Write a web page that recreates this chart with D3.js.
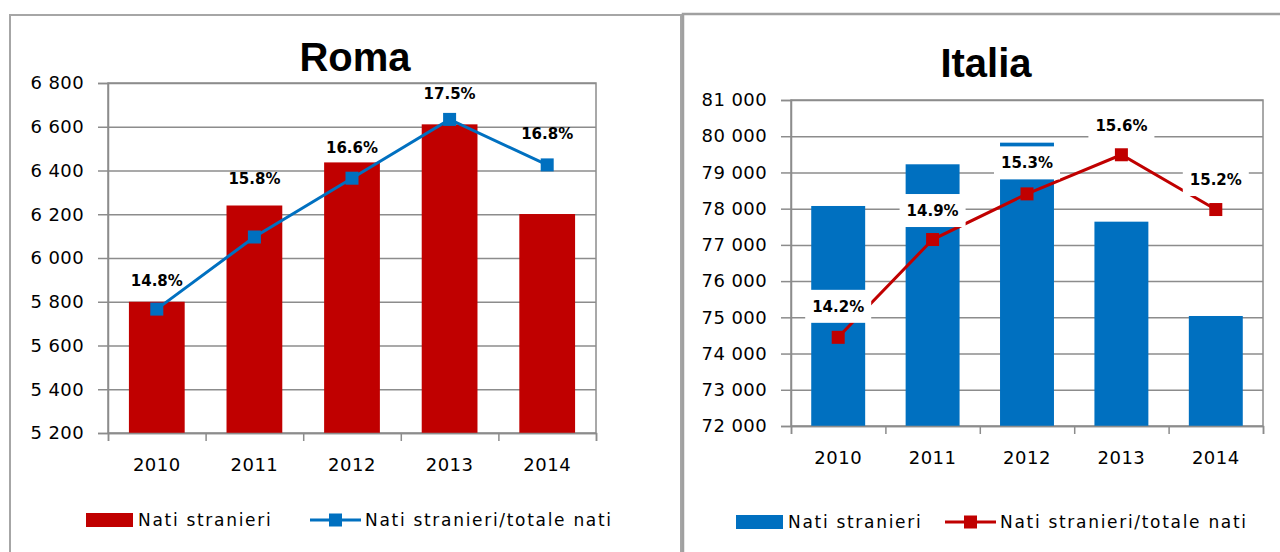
<!DOCTYPE html>
<html>
<head>
<meta charset="utf-8">
<script src="https://cdn.jsdelivr.net/npm/d3@7"></script>
<style>
body { margin: 0; background: #fff; }
svg text { font-family: "DejaVu Sans", sans-serif; fill: #000; }
.tick line { stroke: #8c8c8c; }
.domain { stroke: #8c8c8c; }
</style>
</head>
<body>
<svg width="1280" height="552"></svg>
<script>
// categories
const years = ["2010", "2011", "2012", "2013", "2014"];

// Roma
const romaNati = [5800, 6240, 6437, 6611, 6201];
const romaQuota = [14.77, 15.8, 16.64, 17.48, 16.83];
const romaTicks = [5200, 5400, 5600, 5800, 6000, 6200, 6400, 6600, 6800];

// Italia
const italiaNati = [78074, 79225, 79822, 77641, 75037];
const italiaQuota = [14.18, 14.93, 15.28, 15.58, 15.16];
const italiaTicks = [72000, 73000, 74000, 75000, 76000, 77000, 78000, 79000, 80000, 81000];

const legendNames = ["Nati stranieri", "Nati stranieri/totale nati"];

const RED = "#c00000", BLUE = "#0070c0", GRID = "#8c8c8c";

const fmt = d3.formatLocale({decimal: ".", thousands: " ", grouping: [3], currency: ["", ""]}).format(",d");
const pct = d => d3.format(".1f")(d) + "%";

let svg = d3.select("svg");

// outer frames of the two charts
svg.append("rect")
	.attr("x", 10).attr("y", 15).attr("width", 671).attr("height", 600)
	.attr("fill", "none").attr("stroke", "#a6a6a6").attr("stroke-width", 2);
svg.append("rect")
	.attr("x", 683).attr("y", 14).attr("width", 700).attr("height", 600)
	.attr("fill", "none").attr("stroke", "#a0a0a0").attr("stroke-width", 2.5);

drawPanel({
	title: "Roma", titleX: 355, titleY: 71,
	left: 108, right: 596, top: 83, bottom: 433,
	nati: romaNati, quota: romaQuota, ticks: romaTicks,
	yDomain: [5200, 6800], qDomain: [13, 18],
	barColor: RED, lineColor: BLUE,
	labelDy: [-29, -58, -31, -26, -31], labelBox: false,
	legendY: 520, swatchX: 86, lineX: 310
});

drawPanel({
	title: "Italia", titleX: 986, titleY: 77,
	left: 791, right: 1263, top: 100, bottom: 426,
	nati: italiaNati, quota: italiaQuota, ticks: italiaTicks,
	yDomain: [72000, 81000], qDomain: [13.5, 16],
	barColor: BLUE, lineColor: RED,
	labelDy: [-31, -29, -31, -29, -30], labelBox: true,
	legendY: 522, swatchX: 736, lineX: 945
});

function drawPanel(o) {
	let g = svg.append("g");

	let x = d3.scaleBand()
		.domain(years)
		.range([o.left, o.right])
		.paddingInner(0.4286)
		.paddingOuter(0.2143);
	let y = d3.scaleLinear().domain(o.yDomain).range([o.bottom, o.top]);
	let q = d3.scaleLinear().domain(o.qDomain).range([o.bottom, o.top]);
	let w = o.right - o.left;

	g.append("text")
		.attr("x", o.titleX).attr("y", o.titleY)
		.attr("text-anchor", "middle")
		.style("font-family", "'Liberation Sans', Arial, sans-serif")
		.style("font-weight", "bold")
		.style("font-size", "40px")
		.text(o.title);

	// gridlines
	g.append("g")
		.attr("transform", `translate(${o.left},0)`)
		.call(d3.axisLeft(y).tickValues(o.ticks).tickSize(-w).tickFormat(""))
		.call(s => s.select(".domain").remove())
		.selectAll("line").attr("stroke", GRID).attr("stroke-width", 1.5);

	// plot area border
	g.append("rect")
		.attr("x", o.left).attr("y", o.top)
		.attr("width", w).attr("height", o.bottom - o.top)
		.attr("fill", "none").attr("stroke", GRID).attr("stroke-width", 1.5);

	// y axis with labels
	g.append("g")
		.attr("transform", `translate(${o.left},0)`)
		.call(d3.axisLeft(y).tickValues(o.ticks).tickSize(10).tickPadding(14).tickFormat(fmt))
		.call(s => s.selectAll("line, path").attr("stroke-width", 1.5))
		.selectAll("text")
		.style("font-size", "18px")
		.style("letter-spacing", "0.4px");

	// bars
	g.append("g").selectAll("rect")
		.data(o.nati)
		.enter().append("rect")
		.attr("x", (d, i) => x(years[i]))
		.attr("y", d => y(d))
		.attr("width", x.bandwidth())
		.attr("height", d => o.bottom - y(d))
		.attr("fill", o.barColor);

	// x axis: boundary ticks + labels
	let xb = d3.scaleLinear().domain([0, years.length]).range([o.left, o.right]);
	g.append("g")
		.attr("transform", `translate(0,${o.bottom})`)
		.call(d3.axisBottom(xb).tickValues(d3.range(years.length + 1)).tickSize(8).tickFormat(""))
		.selectAll("line, path").attr("stroke-width", 1.5);
	g.append("g")
		.attr("transform", `translate(0,${o.bottom})`)
		.call(d3.axisBottom(x).tickSize(0).tickPadding(25))
		.call(s => s.select(".domain").remove())
		.selectAll("text")
		.style("font-size", "18px")
		.style("letter-spacing", "0.5px");

	// share line
	let cx = (d, i) => x(years[i]) + x.bandwidth() / 2;
	g.append("path")
		.datum(o.quota)
		.attr("fill", "none")
		.attr("stroke", o.lineColor)
		.attr("stroke-width", 3)
		.attr("d", d3.line().x(cx).y(d => q(d)));
	g.append("g").selectAll("rect")
		.data(o.quota)
		.enter().append("rect")
		.attr("x", (d, i) => cx(d, i) - 6.5)
		.attr("y", d => q(d) - 6.5)
		.attr("width", 13).attr("height", 13)
		.attr("fill", o.lineColor);

	// data labels
	let lab = g.append("g").selectAll("g")
		.data(o.quota)
		.enter().append("g")
		.attr("transform", (d, i) => `translate(${cx(d, i)},${q(d) + o.labelDy[i]})`);
	if (o.labelBox) {
		lab.append("rect")
			.attr("x", -33).attr("y", -16.5)
			.attr("width", 66).attr("height", 33)
			.attr("fill", "#fff");
	}
	lab.append("text")
		.attr("text-anchor", "middle")
		.attr("dy", "0.36em")
		.style("font-size", "15px")
		.style("font-weight", "bold")
		.text(pct);

	// legend
	let lg = g.append("g").attr("transform", `translate(0,${o.legendY})`);
	lg.append("rect")
		.attr("x", o.swatchX).attr("y", -7)
		.attr("width", 47).attr("height", 14)
		.attr("fill", o.barColor);
	lg.append("text")
		.attr("x", o.swatchX + 52).attr("dy", "0.36em")
		.style("font-size", "17px")
		.style("letter-spacing", "1.7px")
		.text(legendNames[0]);
	lg.append("line")
		.attr("x1", o.lineX).attr("x2", o.lineX + 51)
		.attr("stroke", o.lineColor).attr("stroke-width", 3);
	lg.append("rect")
		.attr("x", o.lineX + 25.5 - 6.5).attr("y", -6.5)
		.attr("width", 13).attr("height", 13)
		.attr("fill", o.lineColor);
	lg.append("text")
		.attr("x", o.lineX + 55).attr("dy", "0.36em")
		.style("font-size", "17px")
		.style("letter-spacing", "1.7px")
		.text(legendNames[1]);
}
</script>
</body>
</html>
